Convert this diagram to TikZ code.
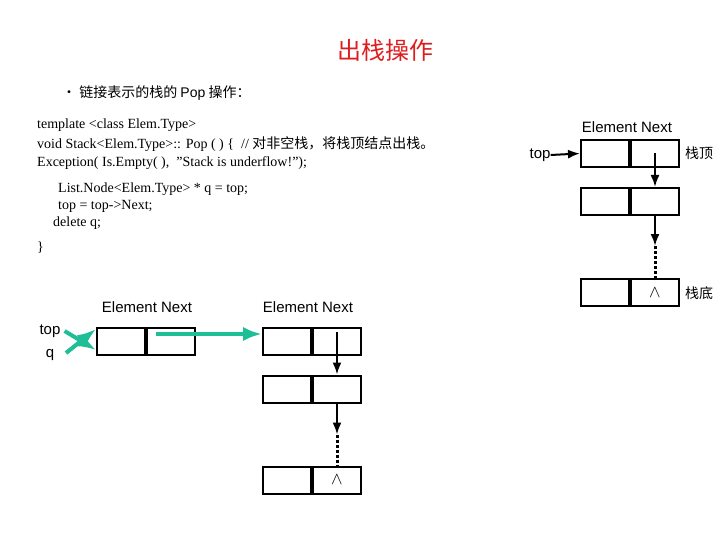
\documentclass[tikz,border=0pt]{standalone}
\usepackage{fontspec}
\setmainfont{Liberation Serif}
\newfontfamily\lab{Liberation Sans}
\newfontfamily\cjk{Noto Sans CJK SC}
\usetikzlibrary{positioning,arrows.meta,calc}
\tikzset{>={Latex[scale=1.0]}}
\definecolor{teal1}{RGB}{30,190,150}
\definecolor{red1}{RGB}{220,30,30}

\begin{document}
\begin{tikzpicture}[x=1pt, y=-1pt,
    cell/.style={draw, line width=2pt, minimum width=48pt, minimum height=27pt, inner sep=0pt},
    lbl/.style={font=\lab\fontsize{15}{15}\selectfont, inner sep=0pt},
    code/.style={font=\fontsize{14}{14}\selectfont, anchor=west, inner sep=0pt},
    link/.style={->, line width=2pt},
    tlink/.style={-{Latex[scale=0.9]}, line width=4pt, teal1}]
    \useasboundingbox (0,0) rectangle (720,540);
    \node[font=\cjk\fontsize{24}{24}\selectfont, text=red1] (title) at (385,50) {出栈操作};
    \node[code, font=\cjk\fontsize{14}{14}\selectfont] (sub) at (62,93) {· 链接表示的栈的 {\lab Pop} 操作：};
    % code lines
    \node[code] (c1) at (37,125) {template <class Elem.Type>};
    \node[code] (c2) at (37,144) {void Stack<Elem.Type>:: Pop ( ) {\{}\ \ // {\cjk 对非空栈，将栈顶结点出栈。}};
    \node[code] (c3) at (37,163) {Exception( Is.Empty( ),\ \ ”Stack is underflow!”);};
    \node[code] (c4) at (58,189) {List.Node<Elem.Type> * q = top;};
    \node[code] (c5) at (58,206) {top = top->Next;};
    \node[code] (c6) at (53,223) {delete q;};
    \node[code] (c7) at (37,248) {\}};
    % right stack
    \node[lbl] (hdr) at (627,127) {Element Next};
    \node[cell] (r1e) at (605,153.5) {};
    \node[cell, right=0pt of r1e] (r1n) {};
    \node[cell] (r2e) at (605,201.5) {};
    \node[cell, right=0pt of r2e] (r2n) {};
    \node[cell] (r3e) at (605,292.5) {};
    \node[cell, right=0pt of r3e, font=\lab\fontsize{16}{16}\selectfont] (r3n) {$\wedge$};
    \node[lbl] (rtop) at (540,155) {top};
    \node[lbl, font=\cjk\fontsize{14}{14}\selectfont] (rtl) at (699,153) {栈顶};
    \node[lbl, font=\cjk\fontsize{14}{14}\selectfont] (rbl) at (699,293) {栈底};
    \draw[link] (rtop.east) -- (r1e.west);
    \draw[link] (r1n.center) -- (r2n.north);
    \draw[link] (r2n.south) -- ++(0,30) coordinate (rd);
    \draw[line width=3pt, dash pattern=on 3pt off 2pt] (rd) -- (r3n.north);
    % left stack
    \node[lbl] (h1) at (147,307) {Element Next};
    \node[lbl] (h2) at (308,307) {Element Next};
    \node[cell] (ae) at (121,341) {};
    \node[cell, right=0pt of ae] (an) {};
    \node[cell] (be) at (287,341) {};
    \node[cell, right=0pt of be] (bn) {};
    \node[cell] (ce) at (287,389) {};
    \node[cell, right=0pt of ce] (cn) {};
    \node[cell] (de) at (287,480) {};
    \node[cell, right=0pt of de, font=\lab\fontsize{16}{16}\selectfont] (dn) {$\wedge$};
    \node[lbl] (ltop) at (50,331) {top};
    \node[lbl] (lq) at (50,355) {q};
    \draw[tlink] ([xshift=4pt]ltop.east) -- ([yshift=-9pt]ae.west);
    \draw[tlink] (66,353) coordinate (qs) -- ([yshift=12pt]ae.west);
    \draw[tlink] ([xshift=-15pt,yshift=7pt]an.center) -- ([yshift=7pt]be.west);
    \draw[link] ([yshift=9pt]bn.center) -- (cn.north);
    \draw[link] (cn.south) -- ++(0,31) coordinate (ld);
    \draw[line width=3pt, dash pattern=on 3pt off 2pt] (ld) -- (dn.north);
\end{tikzpicture}
\end{document}
